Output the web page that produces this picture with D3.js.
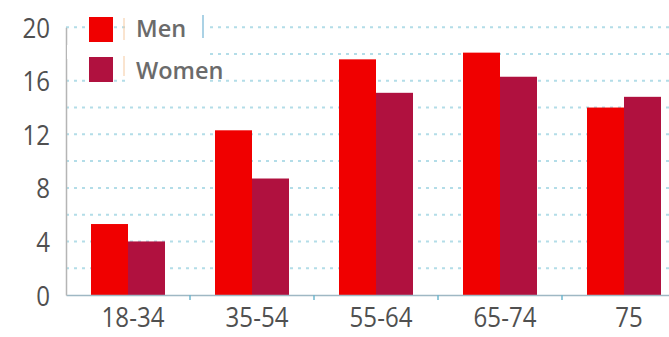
<!DOCTYPE html>
<html><head><meta charset="utf-8">
<script src="https://cdn.jsdelivr.net/npm/d3@7"></script>
<style>
html,body{margin:0;padding:0;background:#fff;}
svg{display:block;}
</style></head>
<body>
<svg id="chart" width="669" height="337"></svg>
<script>
const categories = ["18-34", "35-54", "55-64", "65-74", "75"];
const seriesNames = ["Men", "Women"];
const men = [5.3, 12.3, 17.6, 18.1, 14.0];
const women = [4.0, 8.7, 15.1, 16.3, 14.8];
const yTicks = [0, 4, 8, 12, 16, 20];
const gridValues = [2, 4, 6, 8, 10, 12, 14, 16, 18, 20];
const colors = ["#f00000", "#b0113f"];

const svg = d3.select("#chart");
const axisFont = "'Open Sans', sans-serif";
const sx = 0.86;

const y = d3.scaleLinear().domain([0, 20]).range([295, 27.2]);
const x0 = d3.scaleBand().domain(categories).range([66, 686]).paddingInner(0).paddingOuter(0);
const x1 = d3.scaleBand().domain(seriesNames).range([25, 99]).padding(0);

// gridlines
svg.append("g").selectAll("line").data(gridValues).join("line")
  .attr("x1", 66).attr("x2", 669)
  .attr("y1", d => y(d)).attr("y2", d => y(d))
  .attr("stroke", "#b3dde8").attr("stroke-width", 2)
  .attr("stroke-dasharray", "3,5");

// bars
const data = categories.map((c, i) => ({c, vals: [men[i], women[i]]}));
const groups = svg.append("g").selectAll("g").data(data).join("g")
  .attr("transform", d => `translate(${x0(d.c)},0)`);
groups.selectAll("rect").data(d => d.vals.map((v, j) => ({v, s: seriesNames[j], j})))
  .join("rect")
  .attr("x", d => x1(d.s))
  .attr("width", x1.bandwidth())
  .attr("y", d => y(d.v))
  .attr("height", d => y(0) - y(d.v))
  .attr("fill", d => colors[d.j]);

// x axis baseline + ticks
const xAxis = d3.axisBottom(x0).tickSize(0).tickFormat(d => d);
const xg = svg.append("g").attr("transform", "translate(0,295)").call(xAxis);
xg.select(".domain").attr("stroke", "#9fb8c4").attr("stroke-width", 1.5);
xg.selectAll("text").attr("font-family", axisFont).attr("font-size", 28)
  .attr("fill", "#505050").attr("y", 0).attr("dy", "1.15em").attr("x", 5 / sx)
  .attr("transform", `scale(${sx},1)`);
svg.append("g").selectAll("line").data(categories.slice(1)).join("line")
  .attr("x1", d => x0(d)).attr("x2", d => x0(d))
  .attr("y1", 295).attr("y2", 300)
  .attr("stroke", "#6fb7cf").attr("stroke-width", 1.5);

// y axis
const yAxis = d3.axisLeft(y).tickValues(yTicks).tickSize(0).tickPadding(16);
const yg = svg.append("g").attr("transform", "translate(66,0)").call(yAxis);
yg.select(".domain").attr("stroke", "#b5b5b5").attr("stroke-width", 1.5);
yg.selectAll("text").attr("font-family", axisFont).attr("font-size", 28)
  .attr("fill", "#505050").attr("dy", "0.36em").attr("x", -16 / sx)
  .attr("transform", `scale(${sx},1)`);

// legend
const leg = svg.append("g");
leg.append("rect").attr("x", 125).attr("y", 10).attr("width", 80).attr("height", 80).attr("fill", "#fff");
leg.append("rect").attr("x", 67).attr("y", 45).attr("width", 138).attr("height", 14).attr("fill", "#fff");
seriesNames.forEach((s, i) => {
  leg.append("rect").attr("x", 89).attr("y", 17 + i * 40).attr("width", 24).attr("height", 25)
    .attr("fill", colors[i]);
  leg.append("line").attr("x1", 124).attr("x2", 124).attr("y1", 18 + i * 38).attr("y2", 40 + i * 36)
    .attr("stroke", "#f5c9a0").attr("stroke-width", 1);
  leg.append("text").attr("x", 136).attr("y", 37 + i * 42).text(s)
    .attr("font-family", "'Open Sans', sans-serif").attr("font-weight", 600)
    .attr("font-size", 23.5).attr("fill", "#6b6b6b");
});
leg.append("line").attr("x1", 203).attr("x2", 203).attr("y1", 15).attr("y2", 38)
  .attr("stroke", "#8fc3dc").attr("stroke-width", 1.5);
</script>
</body></html>
